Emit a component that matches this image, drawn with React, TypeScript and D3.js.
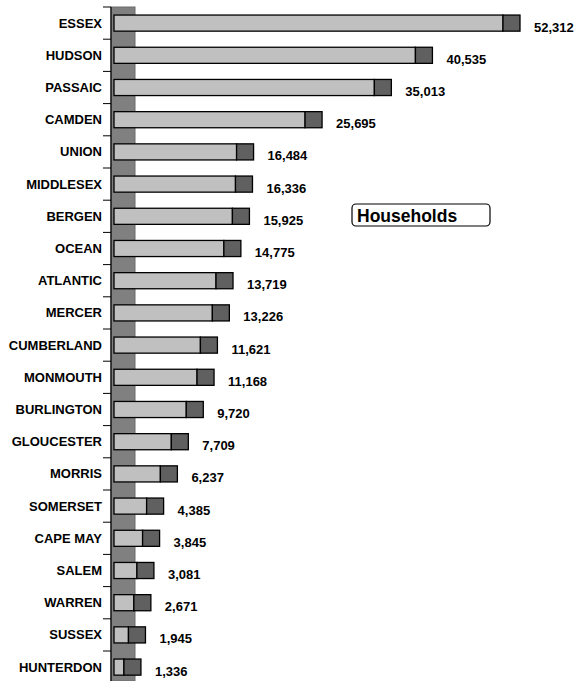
import * as d3 from "d3";
import { useEffect, useRef } from "react";

const counties = [
  "ESSEX", "HUDSON", "PASSAIC", "CAMDEN", "UNION", "MIDDLESEX", "BERGEN",
  "OCEAN", "ATLANTIC", "MERCER", "CUMBERLAND", "MONMOUTH", "BURLINGTON",
  "GLOUCESTER", "MORRIS", "SOMERSET", "CAPE MAY", "SALEM", "WARREN",
  "SUSSEX", "HUNTERDON",
];
const households = [
  52312, 40535, 35013, 25695, 16484, 16336, 15925, 14775, 13719, 13226,
  11621, 11168, 9720, 7709, 6237, 4385, 3845, 3081, 2671, 1945, 1336,
];
const legendTitle = "Households";

const App = () => {
  const ref = useRef<SVGSVGElement | null>(null);

  useEffect(() => {
    const width = 574, height = 681;
    const svg = d3.select(ref.current);
    svg.selectAll("*").remove();

    const font = "'Liberation Sans', Arial, sans-serif";
    const depth = 17;

    const x = d3.scaleLinear().domain([0, 52312]).range([114, 503]);
    const y = d3.scaleBand<string>()
      .domain(counties)
      .range([7, 7 + counties.length * 32.2])
      .paddingInner(0.5)
      .paddingOuter(0.25);
    const step = y.step();

    // back wall
    svg.append("rect")
      .attr("x", 111).attr("y", 7)
      .attr("width", 24).attr("height", height - 7)
      .attr("fill", "#808080")
      .attr("stroke", "#6a6a6a").attr("stroke-width", 1);

    // axis line + ticks at category boundaries
    svg.append("line")
      .attr("x1", 111).attr("x2", 111)
      .attr("y1", 7).attr("y2", height)
      .attr("stroke", "#000").attr("stroke-width", 1.2);
    svg.selectAll("line.tick")
      .data(d3.range(counties.length + 1))
      .enter()
      .append("line")
      .attr("class", "tick")
      .attr("x1", 103).attr("x2", 111)
      .attr("y1", (i) => 7 + i * step)
      .attr("y2", (i) => 7 + i * step)
      .attr("stroke", "#000").attr("stroke-width", 1);

    const rows = counties.map((c, i) => ({ name: c, value: households[i] }));
    const g = svg.selectAll("g.bar").data(rows).enter().append("g").attr("class", "bar");

    g.append("rect")
      .attr("x", x(0))
      .attr("y", (d) => y(d.name)!)
      .attr("width", (d) => x(d.value) - x(0))
      .attr("height", y.bandwidth())
      .attr("fill", "#c0c0c0")
      .attr("stroke", "#000").attr("stroke-width", 1.3);

    g.append("rect")
      .attr("x", (d) => x(d.value))
      .attr("y", (d) => y(d.name)!)
      .attr("width", depth)
      .attr("height", y.bandwidth())
      .attr("fill", "#606060")
      .attr("stroke", "#000").attr("stroke-width", 1.3);

    g.append("text")
      .attr("x", 102)
      .attr("y", (d) => y(d.name)! + y.bandwidth() / 2)
      .attr("dy", "0.35em")
      .attr("text-anchor", "end")
      .style("font-family", font)
      .style("font-weight", "bold")
      .style("font-size", "13px")
      .text((d) => d.name);

    g.append("text")
      .attr("x", (d) => x(d.value) + depth + 14)
      .attr("y", (d) => y(d.name)! + y.bandwidth() / 2 + 4)
      .attr("dy", "0.35em")
      .style("font-family", font)
      .style("font-weight", "bold")
      .style("font-size", "13px")
      .text((d) => d3.format(",")(d.value));

    // legend box
    svg.append("rect")
      .attr("x", 352).attr("y", 204)
      .attr("width", 138).attr("height", 22)
      .attr("rx", 4)
      .attr("fill", "#fff")
      .attr("stroke", "#000").attr("stroke-width", 1.2);
    svg.append("text")
      .attr("x", 357).attr("y", 222)
      .style("font-family", font)
      .style("font-weight", "bold")
      .style("font-size", "17.5px")
      .text(legendTitle);

    svg.attr("width", width).attr("height", height);
  }, []);

  return (
    <svg ref={ref} width={574} height={681}
      style={{ position: "absolute", left: 0, top: 0, background: "#fff" }} />
  );
};

export default App;
